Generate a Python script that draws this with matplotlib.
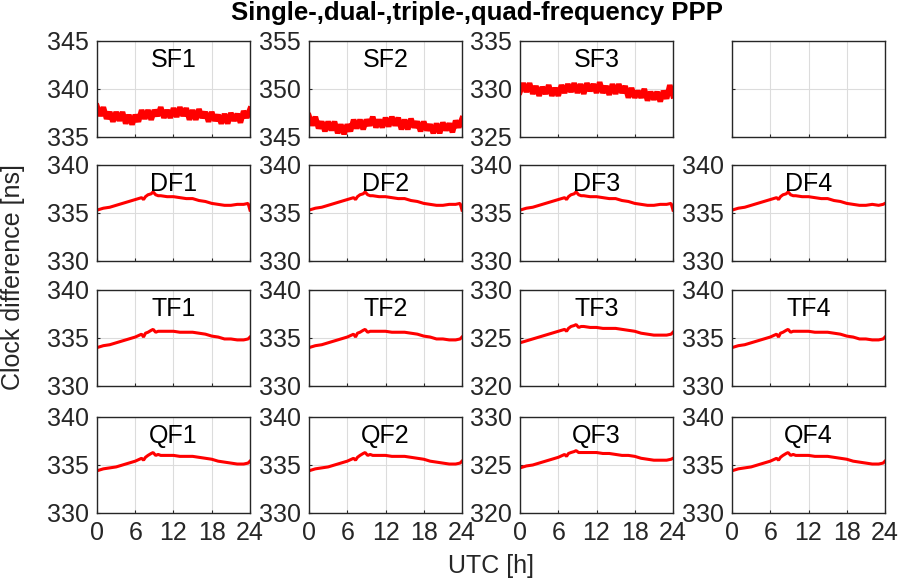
import numpy as np
import matplotlib
matplotlib.use("Agg")
import matplotlib.pyplot as plt

plt.rcParams["font.family"] = ["Liberation Sans", "DejaVu Sans"]
plt.rcParams["font.size"] = 18

# noisy single-frequency series, sampled every 0.5 h
t_sf = np.arange(0, 24.01, 0.5)
sf1 = [338.2, 337.2, 338.1, 336.9, 337.6, 336.6, 337.6, 336.7, 337.6, 336.4,
       337.3, 336.3, 337.3, 336.6, 337.8, 336.9, 337.8, 336.8, 337.8, 337.2,
       338.1, 337.0, 337.8, 337.0, 338.0, 337.1, 338.1, 337.2, 338.0, 336.8,
       337.8, 336.8, 337.9, 337.0, 337.6, 336.6, 337.6, 336.7, 337.3, 336.4,
       337.4, 336.4, 337.5, 336.7, 337.4, 336.5, 337.7, 337.0, 337.9]
sf2 = [347.2, 346.2, 347.1, 345.9, 346.6, 345.6, 346.6, 345.7, 346.6, 345.4,
       346.3, 345.3, 346.3, 345.6, 346.8, 345.9, 346.8, 345.8, 346.8, 346.2,
       347.1, 346.0, 346.8, 346.0, 347.0, 346.1, 347.1, 346.2, 347.0, 345.8,
       346.8, 345.8, 346.9, 346.0, 346.6, 345.6, 346.6, 345.7, 346.3, 345.4,
       346.4, 345.4, 346.5, 345.7, 346.4, 345.5, 346.7, 346.0, 346.9]
sf3 = [329.7, 330.6, 329.7, 330.6, 329.5, 330.3, 329.3, 330.2, 329.5, 330.4,
       329.3, 330.1, 329.3, 330.4, 329.6, 330.5, 329.7, 330.6, 329.6, 330.5,
       329.5, 330.6, 329.8, 330.5, 329.6, 330.7, 329.6, 330.3, 329.4, 330.5,
       329.5, 330.5, 329.6, 330.3, 329.1, 330.1, 329.1, 329.8, 329.1, 330.0,
       328.8, 329.7, 328.9, 329.7, 328.7, 329.8, 329.0, 330.4, 329.3]

# smooth dual/triple/quad-frequency series
t = [0, 1, 2, 3, 4, 5, 6, 7, 7.3, 7.6, 8, 8.5, 8.8, 9.2, 9.6, 10, 11, 12,
     13, 14, 15, 16, 17, 18, 19, 20, 21, 22, 23, 23.7, 24]
df = [335.3, 335.5, 335.6, 335.8, 336.0, 336.2, 336.4, 336.6, 336.4, 336.7,
      336.9, 337.0, 337.2, 336.9, 336.8, 336.8, 336.7, 336.7, 336.6, 336.5,
      336.5, 336.3, 336.2, 336.0, 335.9, 335.8, 335.8, 335.9, 335.9, 336.0, 335.3]
df4 = [335.3, 335.5, 335.6, 335.8, 336.0, 336.2, 336.4, 336.6, 336.4, 336.7,
       336.9, 337.0, 337.2, 336.9, 336.8, 336.8, 336.7, 336.7, 336.6, 336.5,
       336.5, 336.3, 336.2, 336.0, 335.9, 335.8, 335.8, 335.9, 335.8, 335.9, 336.0]
tf = [334.0, 334.2, 334.3, 334.5, 334.7, 334.9, 335.1, 335.4, 335.1, 335.5,
      335.6, 335.8, 335.9, 335.6, 335.7, 335.7, 335.7, 335.7, 335.6, 335.6,
      335.6, 335.5, 335.4, 335.2, 335.1, 334.9, 334.9, 334.8, 334.8, 334.9, 335.1]
tf3 = [324.5, 324.7, 324.9, 325.1, 325.3, 325.5, 325.7, 325.9, 325.7, 326.0,
       326.2, 326.3, 326.4, 326.1, 326.2, 326.2, 326.1, 326.1, 326.0, 326.0,
       326.0, 325.9, 325.8, 325.7, 325.5, 325.4, 325.3, 325.3, 325.3, 325.4, 325.6]
qf = [334.4, 334.6, 334.7, 334.8, 335.0, 335.2, 335.4, 335.7, 335.5, 335.8,
      336.0, 336.2, 336.3, 336.0, 336.1, 336.0, 336.0, 336.0, 335.9, 335.9,
      335.9, 335.8, 335.7, 335.6, 335.4, 335.3, 335.2, 335.1, 335.1, 335.2, 335.4]
qf3 = [324.7, 324.9, 325.0, 325.2, 325.4, 325.6, 325.8, 326.1, 325.9, 326.2,
       326.3, 326.4, 326.5, 326.3, 326.3, 326.3, 326.3, 326.3, 326.2, 326.2,
       326.1, 326.0, 326.0, 325.9, 325.7, 325.6, 325.5, 325.5, 325.5, 325.6, 325.7]

panels = [
    ["SF1", t_sf, sf1, 335], ["SF2", t_sf, sf2, 345], ["SF3", t_sf, sf3, 325], [None, None, None, 330],
    ["DF1", t, df, 330], ["DF2", t, df, 330], ["DF3", t, df, 330], ["DF4", t, df4, 330],
    ["TF1", t, tf, 330], ["TF2", t, tf, 330], ["TF3", t, tf3, 320], ["TF4", t, tf, 330],
    ["QF1", t, qf, 330], ["QF2", t, qf, 330], ["QF3", t, qf3, 320], ["QF4", t, qf, 330],
]

W, H = 901, 584
col_left = [97, 309, 520, 732]
row_top = [41, 165, 290, 417]
aw, ah = 153, 96
dark = "#262626"

fig = plt.figure(figsize=(W / 100, H / 100), dpi=100)

for k, (name, x, y, ymin) in enumerate(panels):
    r, c = divmod(k, 4)
    ax = fig.add_axes([col_left[c] / W, 1 - (row_top[r] + ah) / H, aw / W, ah / H])
    if name is not None:
        lw = 4 if name.startswith("SF") else 2.2
        ax.plot(x, y, color="red", lw=lw, solid_joinstyle="bevel")
        ax.text(0.5, 0.93, name, transform=ax.transAxes, ha="center", va="top",
                fontsize=18, color="black")
    ax.set_xlim(0, 24)
    ax.set_ylim(ymin, ymin + 10)
    ax.set_xticks([0, 6, 12, 18, 24])
    ax.set_yticks([ymin, ymin + 5, ymin + 10])
    ax.grid(True, color="#dcdcdc", lw=0.8)
    ax.set_axisbelow(True)
    ax.tick_params(direction="in", length=2.5, width=0.8, colors=dark,
                   labelsize=18, pad=6)
    for s in ax.spines.values():
        s.set_color(dark)
        s.set_linewidth(1.0)
    if name is None:
        ax.set_xticklabels([])
        ax.set_yticklabels([])
    elif r < 3:
        ax.set_xticklabels([])

fig.text(477 / W, 1 - 13 / H, "Single-,dual-,triple-,quad-frequency PPP",
         ha="center", va="center", fontsize=18.5, fontweight="bold")
fig.text(491 / W, 1 - 566 / H, "UTC [h]", ha="center", va="center",
         fontsize=18, color=dark)
fig.text(13 / W, 1 - 277 / H, "Clock difference [ns]", ha="center", va="center",
         rotation=90, fontsize=18, color=dark)

fig.savefig("out.png", dpi=100)
